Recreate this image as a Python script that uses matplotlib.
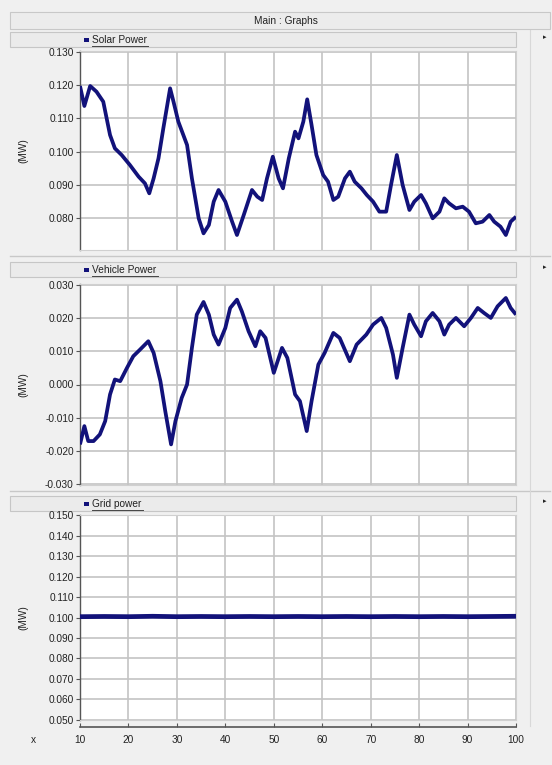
import matplotlib
matplotlib.use('Agg')
import matplotlib.pyplot as plt
from matplotlib.patches import Rectangle
from matplotlib.lines import Line2D

plt.rcParams['font.family'] = ['Liberation Sans', 'DejaVu Sans']
plt.rcParams['axes.unicode_minus'] = False

# ---------------- data ----------------
solar_x = [10, 10.9, 12.1, 13.4, 14.8, 16.2, 17.2, 18.6, 20.3, 22.1, 23.4, 24.3, 25.2, 26.2,
           27.2, 28.6, 29.3, 30.3, 32.1, 33.1, 34.5, 35.5, 36.6, 37.6, 38.6, 40.0, 41.4, 42.4,
           43.8, 45.5, 46.6, 47.6, 48.6, 49.8, 51.0, 51.9, 53.1, 54.4, 55.1, 56.1, 56.9, 57.8,
           58.8, 60.2, 61.2, 62.3, 63.3, 64.7, 65.7, 66.7, 68.1, 69.2, 70.5, 71.8, 73.2, 74.2,
           75.4, 76.6, 78.0, 79.0, 80.4, 81.4, 82.8, 84.2, 85.2, 86.2, 87.6, 89.0, 90.3, 91.7,
           93.1, 94.5, 95.5, 96.8, 97.9, 98.9, 100]
solar_y = [0.1197, 0.1137, 0.1197, 0.1180, 0.1150, 0.1050, 0.1010, 0.0990, 0.0960, 0.0925,
           0.0905, 0.0875, 0.0920, 0.0980, 0.1070, 0.1190, 0.1150, 0.1090, 0.1020, 0.0920,
           0.0800, 0.0755, 0.0780, 0.0850, 0.0885, 0.0850, 0.0790, 0.0750, 0.0810, 0.0885,
           0.0865, 0.0855, 0.0920, 0.0985, 0.0920, 0.0890, 0.0980, 0.1060, 0.1040, 0.1090,
           0.1157, 0.1080, 0.0990, 0.0930, 0.0910, 0.0855, 0.0865, 0.0920, 0.0940, 0.0910,
           0.0890, 0.0870, 0.0850, 0.0820, 0.0820, 0.0900, 0.0990, 0.0900, 0.0825, 0.0850,
           0.0870, 0.0845, 0.0800, 0.0820, 0.0860, 0.0845, 0.0830, 0.0835, 0.0820, 0.0785,
           0.0790, 0.0810, 0.0790, 0.0775, 0.0750, 0.0790, 0.0805]

vehicle_x = [10, 10.9, 11.7, 12.8, 14.1, 15.2, 16.2, 17.2, 18.3, 19.7, 21.0, 22.4, 24.1, 25.2,
             26.6, 27.6, 28.8, 29.7, 31.0, 32.1, 33.1, 34.1, 35.5, 36.6, 37.6, 38.6, 40.0, 41.0,
             42.4, 43.4, 44.8, 46.2, 47.2, 48.3, 50.0, 51.7, 52.8, 54.4, 55.4, 56.8, 57.8, 59.2,
             60.5, 62.3, 63.6, 65.7, 67.1, 69.1, 70.5, 72.2, 73.2, 74.6, 75.4, 76.6, 78.0, 79.0,
             80.4, 81.4, 82.8, 84.2, 85.2, 86.2, 87.6, 89.3, 90.7, 92.1, 93.4, 94.8, 96.2, 97.9,
             98.9, 100]
vehicle_y = [-0.0180, -0.0125, -0.0170, -0.0170, -0.0150, -0.0110, -0.0030, 0.0015, 0.0010,
             0.0050, 0.0085, 0.0105, 0.0130, 0.0095, 0.0010, -0.0080, -0.0180, -0.0110, -0.0040,
             0.0000, 0.0110, 0.0210, 0.0248, 0.0210, 0.0150, 0.0120, 0.0170, 0.0230, 0.0255,
             0.0220, 0.0160, 0.0115, 0.0160, 0.0140, 0.0035, 0.0110, 0.0080, -0.0030, -0.0050,
             -0.0140, -0.0050, 0.0060, 0.0095, 0.0155, 0.0140, 0.0070, 0.0120, 0.0150, 0.0180,
             0.0200, 0.0170, 0.0090, 0.0020, 0.0110, 0.0210, 0.0180, 0.0145, 0.0190, 0.0215,
             0.0190, 0.0150, 0.0180, 0.0200, 0.0175, 0.0200, 0.0230, 0.0215, 0.0200, 0.0235,
             0.0260, 0.0230, 0.0210]

grid_x = [10, 15, 20, 25, 30, 35, 40, 45, 50, 55, 60, 65, 70, 75, 80, 85, 90, 95, 100]
grid_y = [0.1004, 0.1005, 0.1004, 0.1006, 0.1004, 0.1005, 0.1004, 0.1005, 0.1004, 0.1005,
          0.1004, 0.1005, 0.1004, 0.1005, 0.1004, 0.1005, 0.1004, 0.1005, 0.1006]

titles = ['Solar Power', 'Vehicle Power', 'Grid power']
ylims = [(0.0705, 0.1302), (-0.0302, 0.0302), (0.0498, 0.1502)]
yticks = [[0.080, 0.090, 0.100, 0.110, 0.120, 0.130],
          [-0.030, -0.020, -0.010, 0.000, 0.010, 0.020, 0.030],
          [0.050, 0.060, 0.070, 0.080, 0.090, 0.100, 0.110, 0.120, 0.130, 0.140, 0.150]]
xticks = [10, 20, 30, 40, 50, 60, 70, 80, 90, 100]

# ---------------- layout ----------------
W, H = 552, 765
fig = plt.figure(figsize=(W / 100, H / 100), dpi=100, facecolor='#f0f0f0')

def fx(px):
    return px / W

def fy(py):
    return 1 - py / H

FS = 7.3
LINE = '#12127a'
GRID = '#c4c4c4'
TXT = '#222222'

# title bar
fig.patches.append(Rectangle((fx(10), fy(29)), fx(540), (29 - 12) / H,
                             transform=fig.transFigure, facecolor='#ececec',
                             edgecolor='#c8c8c8', lw=0.8, zorder=-2))
fig.text(fx(286), fy(20.5), 'Main : Graphs', fontsize=FS, ha='center', va='center', color=TXT)

# panel geometry: (header top, header bottom, plot top, plot bottom)
panels = [(32, 47, 51, 250), (262, 277, 284, 485), (496, 511, 515, 720)]
seps = [256, 491]

for s in seps:
    fig.add_artist(Line2D([fx(10), fx(550)], [fy(s), fy(s)], transform=fig.transFigure,
                          color='#c8c8c8', lw=1.0, zorder=-2))
fig.add_artist(Line2D([fx(530), fx(530)], [fy(29), fy(726)], transform=fig.transFigure,
                      color='#d8d8d8', lw=0.8, zorder=-2))

series = [(solar_x, solar_y, 2.7), (vehicle_x, vehicle_y, 2.7), (grid_x, grid_y, 3.4)]
title_w = [56, 66, 51]

axes = []
for i, (ht, hb, pt, pb) in enumerate(panels):
    fig.patches.append(Rectangle((fx(10), fy(hb)), fx(516) - fx(10), (hb - ht) / H,
                                 transform=fig.transFigure, facecolor='#ebebeb',
                                 edgecolor='#c6c6c6', lw=0.8, zorder=-2))
    fig.patches.append(Rectangle((fx(84), fy((ht + hb) / 2 + 2.2)), 5 / W, 4 / H,
                                 transform=fig.transFigure, facecolor=LINE, edgecolor='none'))
    fig.text(fx(92), fy((ht + hb) / 2 + 0.3), titles[i], fontsize=FS, ha='left',
             va='center', color=TXT)
    fig.add_artist(Line2D([fx(92), fx(92 + title_w[i])], [fy(hb - 1.0), fy(hb - 1.0)],
                          transform=fig.transFigure, color='#444444', lw=0.7))
    fig.text(fx(545), fy(ht + 5), '\u25b8', fontsize=5, ha='center', va='center', color=TXT,
             family='DejaVu Sans')

    ax = fig.add_axes([fx(80), fy(pb), (516 - 80) / W, (pb - pt) / H])
    axes.append(ax)
    ax.set_facecolor('white')
    xs, ys, lw = series[i]
    ax.plot(xs, ys, color=LINE, lw=lw, solid_joinstyle='round', solid_capstyle='butt', zorder=3)
    ax.set_xlim(10, 100)
    ax.set_ylim(*ylims[i])
    ax.set_xticks(xticks)
    ax.set_yticks(yticks[i])
    ax.yaxis.set_major_formatter(matplotlib.ticker.FormatStrFormatter('%.3f'))
    ax.grid(True, color=GRID, lw=1.2, zorder=0)
    ax.set_axisbelow(True)
    ax.tick_params(axis='y', labelsize=FS, length=3, width=0.8, color='#555555',
                   labelcolor=TXT, pad=1.5)
    ax.tick_params(axis='x', length=0, labelbottom=False)
    for side in ['top', 'right', 'bottom']:
        ax.spines[side].set_color('#d0d0d0')
        ax.spines[side].set_linewidth(0.8)
    ax.spines['left'].set_color('#555555')
    ax.spines['left'].set_linewidth(1.0)
    ax.set_ylabel('(MW)', fontsize=FS, color=TXT)
    ax.yaxis.set_label_coords(-0.118, 0.5)

ax3 = axes[2]
sec = ax3.secondary_xaxis(-7 / 205)
sec.set_xticks(xticks)
sec.tick_params(axis='x', direction='in', length=3, width=0.8, color='#555555',
                labelsize=FS, labelcolor=TXT, pad=6)
sec.spines['bottom'].set_color('#555555')
sec.spines['bottom'].set_linewidth(1.2)
fig.text(fx(33), fy(740), 'x', fontsize=FS, ha='center', va='center', color=TXT)

fig.savefig('out.png', dpi=100, facecolor=fig.get_facecolor())
